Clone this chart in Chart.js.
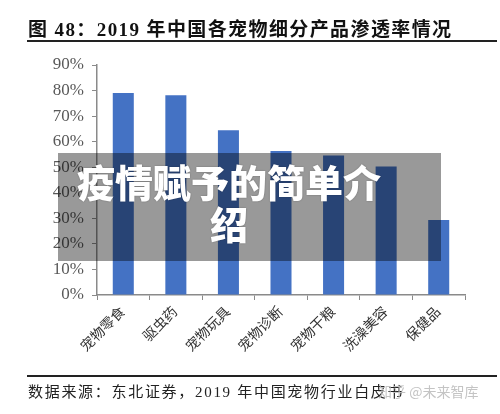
<!DOCTYPE html>
<html>
<head>
<meta charset="utf-8">
<script src="https://cdn.jsdelivr.net/npm/chart.js@4.4.0/dist/chart.umd.min.js"></script>
<style>
  html, body { margin: 0; padding: 0; background: #fff; }
  #wrap { position: relative; width: 500px; height: 414px; overflow: hidden; }
  #chart { position: absolute; left: 0; top: 0; }
  .title {
    position: absolute; left: 28px; top: 14px; white-space: nowrap;
    font: bold 19px "Liberation Serif", "Noto Sans CJK SC", serif;
    letter-spacing: 1.4px; color: #111;
  }
  .rule1 { position: absolute; left: 27px; top: 40px; width: 470px; height: 2px; background: #222; }
  .rule2 { position: absolute; left: 27px; top: 375px; width: 470px; height: 1.5px; background: #222; }
  .source {
    position: absolute; left: 28px; top: 380px; white-space: nowrap;
    font: 15px "Liberation Serif", "Noto Sans CJK SC", serif;
    letter-spacing: 1.7px; color: #222;
  }
  .mark {
    position: absolute; left: 378px; top: 381px; white-space: nowrap;
    font: 14px "Noto Sans CJK SC", sans-serif; color: rgba(190,190,190,0.9);
  }
  .cover {
    position: absolute; left: 58px; top: 153px; width: 383px; height: 108px;
    background: rgba(0,0,0,0.4);
  }
  .cover-text {
    position: absolute; left: 69px; top: 160px; width: 320px; text-align: center;
    font: 900 38px/42px "Noto Sans CJK SC", sans-serif; color: #fff;
    text-shadow: 0 0 2px rgba(0,0,0,0.3);
  }
</style>
</head>
<body>
<div id="wrap">
  <canvas id="chart" width="500" height="414"></canvas>
  <div class="title">图 48：2019 年中国各宠物细分产品渗透率情况</div>
  <div class="rule1"></div>
  <div class="rule2"></div>
  <div class="source">数据来源：东北证券，2019 年中国宠物行业白皮书</div>
  <div class="mark">知乎 @未来智库</div>
  <div class="cover"></div>
  <div class="cover-text">疫情赋予的简单介绍</div>
</div>
<script>
var categories = ["宠物零食", "驱虫药", "宠物玩具", "宠物诊断", "宠物干粮", "洗澡美容", "保健品"];
var penetration = [79, 78.2, 64.5, 56.3, 54.6, 50.3, 29.3];
var yTicks = [0, 10, 20, 30, 40, 50, 60, 70, 80, 90];

var axisColor = "#8a8a8a";
var labelColor = "#595959";

var ctx = document.getElementById("chart").getContext("2d");
var myChart = new Chart(ctx, {
	type: 'bar',
	data: {
		labels: categories,
		datasets: [{
			label: "渗透率",
			data: penetration,
			backgroundColor: "#4472C4",
			categoryPercentage: 1.0,
			barPercentage: 0.4
		}]
	},
	options: {
		responsive: false,
		animation: false,
		layout: { padding: { left: 0, right: 35, top: 65, bottom: 59 } },
		plugins: {
			legend: { display: false },
			tooltip: { enabled: false }
		},
		scales: {
			x: {
				grid: { drawOnChartArea: false, drawTicks: true, tickLength: 5, color: axisColor, offset: true },
				border: { color: axisColor, width: 1.5 },
				ticks: {
					color: "#333",
					font: { family: "'Liberation Serif', 'Noto Sans CJK SC', serif", size: 14 },
					minRotation: 45,
					maxRotation: 45,
					padding: 4
				},
				afterFit: function (scale) { scale.height = 60; }
			},
			y: {
				min: 0,
				max: 90,
				afterBuildTicks: function (scale) {
					scale.ticks = yTicks.map(function (v) { return { value: v }; });
				},
				grid: { drawOnChartArea: false, drawTicks: true, tickLength: 5, color: axisColor },
				border: { color: axisColor, width: 1.5 },
				ticks: {
					color: labelColor,
					font: { family: "'Liberation Serif', serif", size: 17 },
					padding: 8,
					callback: function (v) { return v + "%"; }
				},
				afterFit: function (scale) { scale.width = 97; }
			}
		}
	}
});
</script>
</body>
</html>
